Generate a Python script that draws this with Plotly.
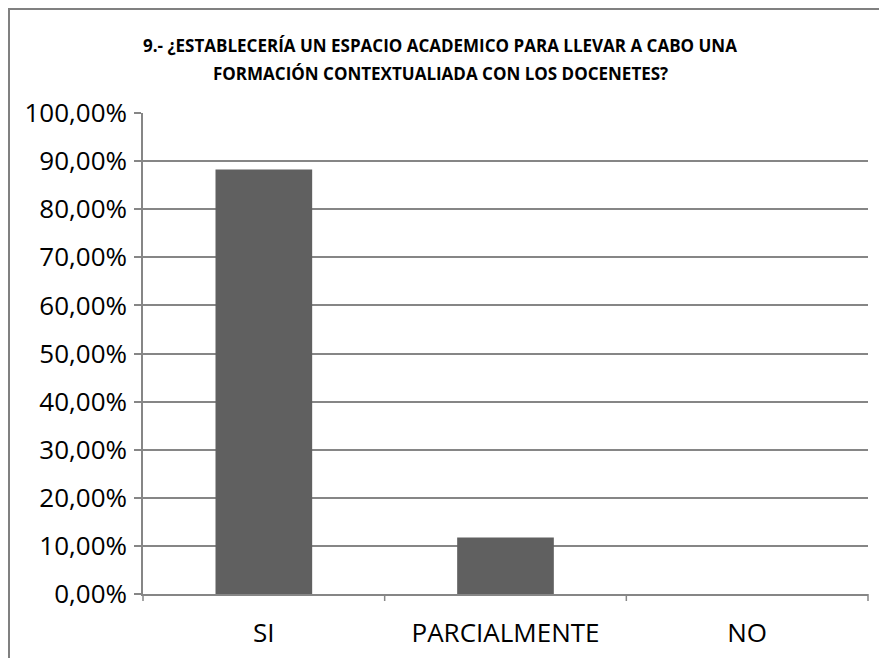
import plotly.graph_objects as go

categories = ["SI", "PARCIALMENTE", "NO"]
values = [0.8824, 0.1176, 0.0]
y_tick_vals = [i / 10 for i in range(11)]
y_tick_text = ["0,00%", "10,00%", "20,00%", "30,00%", "40,00%", "50,00%",
               "60,00%", "70,00%", "80,00%", "90,00%", "100,00%"]
title_lines = ["9.- ¿ESTABLECERÍA UN ESPACIO ACADEMICO PARA LLEVAR A CABO UNA",
               "FORMACIÓN CONTEXTUALIADA CON LOS DOCENETES?"]

W, H = 887, 658
L, R, T, B = 135, 27, 105, 72
FONT = "'Open Sans', sans-serif"

fig = go.Figure(go.Bar(
    x=categories, y=values,
    marker=dict(color="#606060", line=dict(width=0)),
    width=0.4,
))

pw = W - L - R
ph = H - T - B
def px_to_paper_x(px):
    return (px - L) / pw
def px_to_paper_y(py):
    return (H - B - py) / ph

fig.update_layout(
    width=W, height=H,
    margin=dict(l=L, r=R, t=T, b=B, pad=0),
    paper_bgcolor="white", plot_bgcolor="white",
    font=dict(family=FONT, color="black", size=26),
    showlegend=False,
    bargap=0.6,
    xaxis=dict(
        showline=True, linecolor="#868686", linewidth=1.5,
        ticks="outside", ticklen=0, showgrid=False,
        tickfont=dict(size=26, color="black"),
        zeroline=False,
        ticklabelstandoff=15,
    ),
    yaxis=dict(
        range=[0, 1],
        tickvals=y_tick_vals, ticktext=y_tick_text,
        showline=True, linecolor="#868686", linewidth=1.5,
        ticks="outside", ticklen=7, tickcolor="#868686", tickwidth=1.5,
        showgrid=True, gridcolor="#868686", gridwidth=1.5,
        zeroline=False,
        tickfont=dict(size=26, color="black"),
        ticklabelstandoff=2,
    ),
)

# title, two centred lines
title_centres_y = [37, 65]
for line, yc in zip(title_lines, title_centres_y):
    fig.add_annotation(text=f"<b>{line}</b>", xref="paper", yref="paper",
                       x=px_to_paper_x(432), y=px_to_paper_y(yc),
                       xanchor="center", yanchor="middle", showarrow=False,
                       font=dict(size=17, color="black", family=FONT))

# category separator ticks on x axis
for i in range(len(categories) + 1):
    xp = i / len(categories)
    fig.add_shape(type="line", xref="paper", yref="paper",
                  x0=xp, x1=xp, y0=0, y1=-7 / ph,
                  line=dict(color="#868686", width=1.5))

# chart border
fig.add_shape(type="rect", xref="paper", yref="paper",
              x0=px_to_paper_x(1), x1=px_to_paper_x(900),
              y0=px_to_paper_y(680), y1=px_to_paper_y(1),
              line=dict(color="#808080", width=2), fillcolor="rgba(0,0,0,0)",
              layer="below")

fig.write_html("out.html")
